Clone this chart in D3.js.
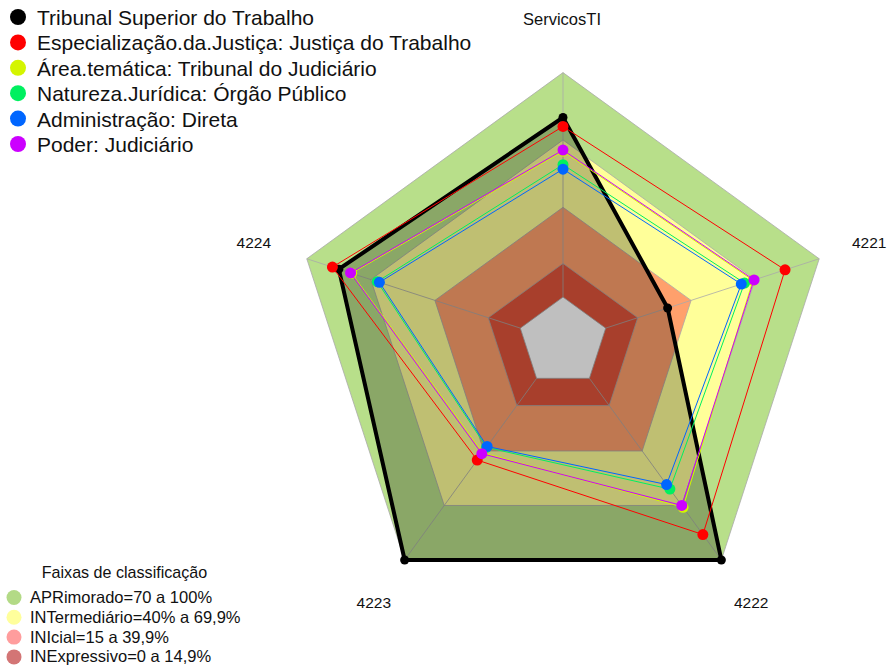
<!DOCTYPE html>
<html>
<head>
<meta charset="utf-8">
<script src="https://cdn.jsdelivr.net/npm/d3@7"></script>
<style>
  body { margin: 0; background: #fff; }
  svg { display: block; font-family: 'Liberation Sans', Arial, sans-serif; }
</style>
</head>
<body>
<div id="chart"></div>
<script>
// axes (clockwise from top)
const axes = ['ServicosTI', '4221', '4222', '4223', '4224']

// series, in legend order
const seriesNames = [
  'Tribunal Superior do Trabalho',
  'Especialização.da.Justiça: Justiça do Trabalho',
  'Área.temática: Tribunal do Judiciário',
  'Natureza.Jurídica: Órgão Público',
  'Administração: Direta',
  'Poder: Judiciário',
]
const seriesColors = ['#000000', '#ff0000', '#d4f500', '#00f060', '#0066ff', '#cc00ff']
const tstValues = [80, 29, 100, 100, 85]
const especValues = [76, 84, 86, 45, 88]
const areaValues = [65, 69, 71, 41, 79]
const naturezaValues = [59, 65, 61, 38, 67]
const adminValues = [57, 63.5, 58.5, 37.5, 66]
const poderValues = [65.5, 69.5, 70, 41.5, 79.5]
const seriesValues = [tstValues, especValues, areaValues, naturezaValues, adminValues, poderValues]

// classification bands
const bandLabels = ['APRimorado=70 a 100%', 'INTermediário=40% a 69,9%', 'INIcial=15 a 39,9%', 'INExpressivo=0 a 14,9%']
const bandUpper = [100, 70, 40, 15]
const bandFills = ['#b8df8a', '#ffff99', '#ffa06c', '#e0553b']
const bandLegendFills = ['#b3da86', '#ffff9c', '#ff9d9d', '#d37575']

const width = 889
const height = 668
const cx = 563
const cy = 342
const R = 269.4

const svg = d3.select('#chart').append('svg')
  .attr('width', width)
  .attr('height', height)

const r = d3.scaleLinear().domain([0, 100]).range([R / 6, R])
const angle = d3.scalePoint().domain(axes).range([0, 2 * Math.PI * 4 / 5])

const pt = (axis, v) => {
  const a = angle(axis)
  return [cx + r(v) * Math.sin(a), cy - r(v) * Math.cos(a)]
}
const ring = (v) => axes.map(a => pt(a, v))
const line = d3.line().curve(d3.curveLinearClosed)

// bands
svg.append('g').selectAll('path')
  .data(bandUpper)
  .join('path')
  .attr('d', v => line(ring(v)))
  .attr('fill', (v, i) => bandFills[i])
  .attr('stroke', '#aaaaaa')
  .attr('stroke-width', 0.8)

svg.append('path')
  .attr('d', line(ring(0)))
  .attr('fill', '#ffffff')
  .attr('stroke', '#aaaaaa')
  .attr('stroke-width', 0.8)

// radial axis lines
svg.append('g').selectAll('line')
  .data(axes)
  .join('line')
  .attr('x1', a => pt(a, 0)[0])
  .attr('y1', a => pt(a, 0)[1])
  .attr('x2', a => pt(a, 100)[0])
  .attr('y2', a => pt(a, 100)[1])
  .attr('stroke', '#aaaaaa')
  .attr('stroke-width', 0.8)

// series
seriesValues.forEach((vals, i) => {
  const g = svg.append('g')
  const pts = axes.map((a, j) => pt(a, vals[j]))
  g.append('path')
    .attr('d', line(pts))
    .attr('fill', i === 0 ? 'rgba(0,0,0,0.25)' : 'none')
    .attr('stroke', seriesColors[i])
    .attr('stroke-width', i === 0 ? 4 : 1)
    .attr('stroke-linejoin', 'round')
  g.selectAll('circle')
    .data(pts)
    .join('circle')
    .attr('cx', d => d[0])
    .attr('cy', d => d[1])
    .attr('r', i === 0 ? 4.5 : 5.5)
    .attr('fill', seriesColors[i])
})

// axis labels
const labelPos = {
  ServicosTI: [562, 25, 'middle', 16.5],
  4221: [852, 248, 'start', 15.5],
  4222: [734, 608, 'start', 15.5],
  4223: [391, 608, 'end', 15.5],
  4224: [271, 248, 'end', 15.5],
}
svg.append('g').selectAll('text')
  .data(axes)
  .join('text')
  .attr('x', a => labelPos[a][0])
  .attr('y', a => labelPos[a][1])
  .attr('text-anchor', a => labelPos[a][2])
  .attr('font-size', a => labelPos[a][3])
  .attr('fill', '#111')
  .text(a => a)

// top legend
const leg = svg.append('g')
seriesNames.forEach((name, i) => {
  const y = 17 + i * 25.4
  leg.append('circle').attr('cx', 18).attr('cy', y).attr('r', 8).attr('fill', seriesColors[i])
  leg.append('text')
    .attr('x', 37)
    .attr('y', y + 8)
    .attr('font-size', 21)
    .attr('fill', '#111')
    .text(name)
})

// band legend
const bleg = svg.append('g')
bleg.append('text')
  .attr('x', 124.5)
  .attr('y', 578)
  .attr('text-anchor', 'middle')
  .attr('font-size', 16.1)
  .attr('fill', '#111')
  .text('Faixas de classificação')
bandLabels.forEach((label, i) => {
  const y = 597.5 + i * 19.8
  bleg.append('circle').attr('cx', 14).attr('cy', y).attr('r', 7.5).attr('fill', bandLegendFills[i])
  bleg.append('text')
    .attr('x', 30)
    .attr('y', y + 5.5)
    .attr('font-size', 16.5)
    .attr('fill', '#111')
    .text(label)
})
</script>
</body>
</html>
